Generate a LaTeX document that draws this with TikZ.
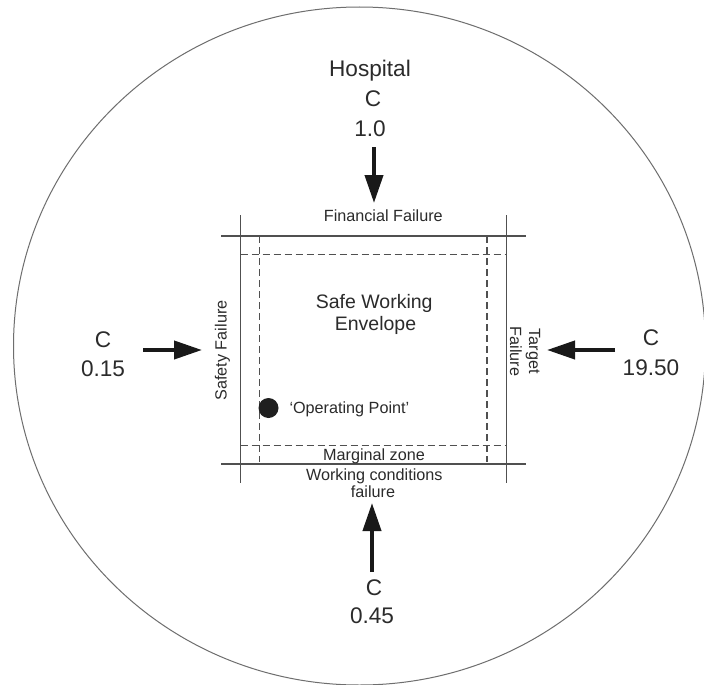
\documentclass[tikz,border=0pt]{standalone}
\usepackage{fontspec}
\setmainfont{Liberation Sans}
\usetikzlibrary{arrows.meta}
\definecolor{ink}{HTML}{2B2B2B}
\definecolor{rule}{HTML}{505050}
\definecolor{rim}{HTML}{6E6E6E}
\begin{document}
\begin{tikzpicture}[x=1pt,y=-1pt,
  every node/.style={inner sep=0pt,text=ink},
  bigtxt/.style={font=\fontsize{22.6}{29}\selectfont,anchor=base},
  midtxt/.style={font=\fontsize{19.5}{22.4}\selectfont,anchor=base},
  smalltxt/.style={font=\fontsize{16.2}{17.7}\selectfont,anchor=base},
  border/.style={draw=rule,line width=1.3pt},
  margin/.style={draw=rule,line width=1.1pt,dash pattern=on 7pt off 4pt},
  push/.style={draw=black!90,line width=4pt,-{Triangle[length=28pt,width=18pt]}}]
\useasboundingbox (0,0) rectangle (704,685);
\fill[white] (0,0) rectangle (704,685);

% outer boundary of the hospital
\begin{scope}
  \clip (0,0) rectangle (704,685);
  \draw[rim,line width=1pt] (359.5,346) ellipse [x radius=346, y radius=339];
\end{scope}

% failure boundaries (solid) and marginal zone (dashed)
\draw[border] (240.5,215) -- (240.5,483);
\draw[border] (506.5,215) -- (506.5,483);
\draw[border] (221,236) -- (526,236);
\draw[border] (221,464) -- (526,464);
\draw[margin] (259.5,236) -- (259.5,462);
\draw[margin] (487,236) -- (487,462);
\draw[margin] (240.5,254.5) -- (506.5,254.5);
\draw[margin] (240.5,445.5) -- (506.5,445.5);

% pressures from outside
\node[bigtxt] (hospA) at (370,76.7) {Hospital};
\node[bigtxt] (hospC) at (373,106.5) {C};
\node[bigtxt] (hospV) at (370,136.5) {1.0};
\node[bigtxt] (leftC) at (103,347) {C};
\node[bigtxt] (leftV) at (103,376.6) {0.15};
\node[bigtxt] (rightC) at (651,345) {C};
\node[bigtxt] (rightV) at (651,375) {19.50};
\node[bigtxt] (botC) at (374,595) {C};
\node[bigtxt] (botV) at (372,623.3) {0.45};

% boundary labels
\node[smalltxt] (fin) at (383.3,221.5) {Financial Failure};
\node[smalltxt,rotate=90] (safety) at (226.6,350.5) {Safety Failure};
\node[smalltxt,rotate=-90] (targetA) at (529,351) {Target};
\node[smalltxt,rotate=-90] (targetB) at (510,351.5) {Failure};
\node[smalltxt] (marg) at (374,460) {Marginal zone};
\node[smalltxt] (workA) at (374.3,480) {Working conditions};
\node[smalltxt] (workB) at (373,497.7) {failure};

% inside the envelope
\node[midtxt] (safeA) at (374.2,308.3) {Safe Working};
\node[midtxt] (safeB) at (375.5,330.7) {Envelope};
\node[circle,fill=black!88,minimum size=20pt] (dot) at (268.5,408) {};
\node[smalltxt,anchor=base west] (op) at (289.3,413) {‘Operating Point’};

% arrow ends
\coordinate (topTail) at (374,147);
\coordinate (topTip) at (374,203);
\coordinate (leftTail) at (143,350);
\coordinate (leftTip) at (202,350);
\coordinate (rightTail) at (615,350);
\coordinate (rightTip) at (547,350);
\coordinate (botTail) at (372,572);
\coordinate (botTip) at (372,503);

\draw[push] (topTail) -- (topTip);
\draw[push] (leftTail) -- (leftTip);
\draw[push] (rightTail) -- (rightTip);
\draw[push] (botTail) -- (botTip);
\end{tikzpicture}
\end{document}
